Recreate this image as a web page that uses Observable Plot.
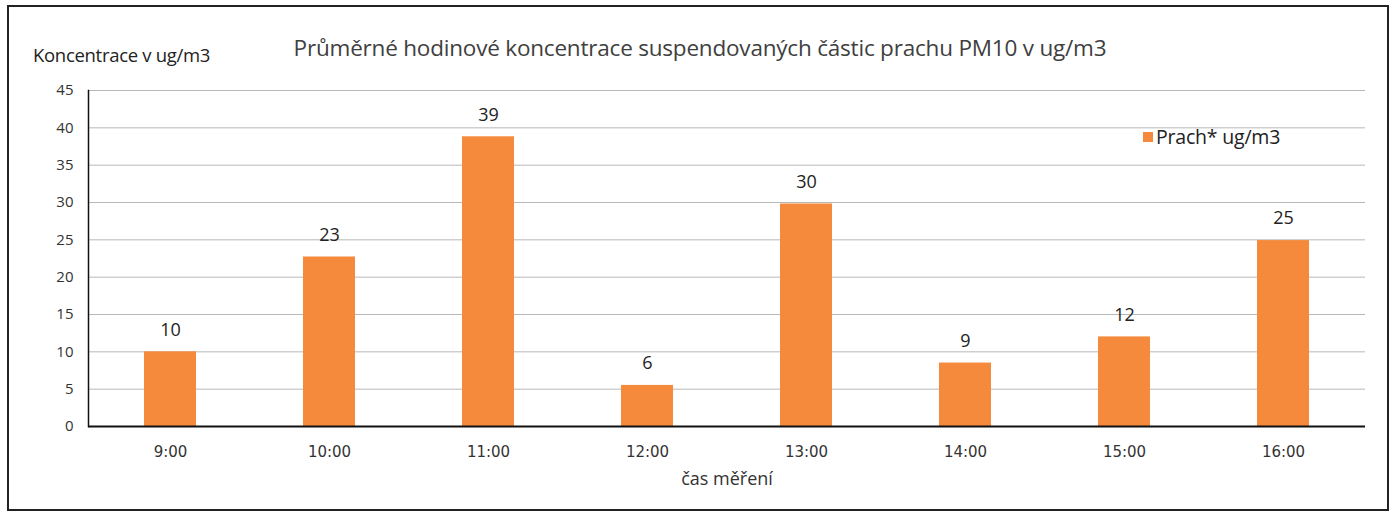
<!DOCTYPE html>
<html>
<head>
<meta charset="utf-8">
<script src="https://cdn.jsdelivr.net/npm/d3@7"></script>
<script src="https://cdn.jsdelivr.net/npm/@observablehq/plot@0.6"></script>
<style>
  html, body { margin: 0; padding: 0; background: #fff; }
  #wrap { position: relative; width: 1394px; height: 517px; overflow: hidden; font-family: "Open Sans", Lato, sans-serif; }
  #frame { position: absolute; left: 7px; top: 5px; width: 1378px; height: 502px; border: 2px solid #222; }
  #title { position: absolute; left: 0; width: 1394px; top: 32px; text-align: center; font-size: 22.5px; color: #404040; padding-left: 6px; box-sizing: border-box; letter-spacing: -0.2px; }
  #ylab { position: absolute; left: 33px; top: 42px; font-size: 18.5px; color: #222; letter-spacing: -0.3px; }
  #legend { position: absolute; left: 1143px; top: 123px; font-size: 19.5px; color: #222; display: flex; align-items: center; letter-spacing: -0.2px; }
  #legend .sw { width: 10px; height: 10px; background: #f58a3c; margin-right: 3px; }
  #chart { position: absolute; left: 0; top: 0; }
</style>
</head>
<body>
<div id="wrap">
  <div id="chart"></div>
  <div id="frame"></div>
  <div id="title">Průměrné hodinové koncentrace suspendovaných částic prachu PM10 v ug/m3</div>
  <div id="ylab">Koncentrace v ug/m3</div>
  <div id="legend"><span class="sw"></span>Prach* ug/m3</div>
</div>
<script>
const hours = ["9:00", "10:00", "11:00", "12:00", "13:00", "14:00", "15:00", "16:00"];
const values = [10, 22.7, 38.8, 5.5, 29.8, 8.5, 12.0, 24.9];
const labels = ["10", "23", "39", "6", "30", "9", "12", "25"];
const yTicks = [0, 5, 10, 15, 20, 25, 30, 35, 40, 45];
const xTitle = "čas měření";
const barColor = "#f58a3c";

const data = hours.map((h, i) => ({hour: h, value: values[i], label: labels[i]}));

const chart = Plot.plot({
  width: 1394,
  height: 517,
  marginLeft: 88,
  marginRight: 29,
  marginTop: 90,
  marginBottom: 91,
  style: {fontFamily: "'Open Sans', Lato, sans-serif", background: "transparent"},
  x: {domain: hours, paddingInner: 0.67, paddingOuter: 0.335, label: null},
  y: {domain: [0, 45], label: null},
  marks: [
    Plot.gridY(yTicks, {stroke: "#b8b8b8", strokeOpacity: 1, strokeWidth: 1}),
    Plot.barY(data, {x: "hour", y: "value", fill: barColor}),
    Plot.text(data, {x: "hour", y: "value", text: "label", dy: -22, fontSize: 18, fill: "#222"}),
    Plot.axisY({ticks: yTicks, tickSize: 0, tickPadding: 15, fontSize: 15, fill: "#333", label: null}),
    Plot.axisX({tickSize: 0, tickPadding: 20, fontSize: 15, fill: "#333", fontFamily: "'DejaVu Sans'", label: null}),
    Plot.ruleY([0], {stroke: "#111", strokeWidth: 2}),
    Plot.frame({anchor: "left", stroke: "#111", strokeWidth: 1.5}),
    Plot.text([xTitle], {frameAnchor: "bottom", dy: 58, fontSize: 18, fill: "#333"})
  ]
});
document.getElementById("chart").appendChild(chart);
</script>
</body>
</html>
